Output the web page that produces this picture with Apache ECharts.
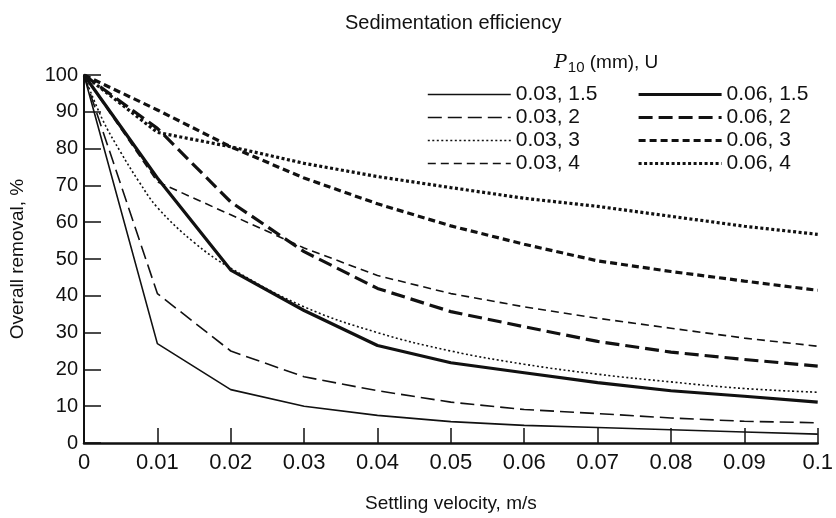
<!DOCTYPE html>
<html><head><meta charset="utf-8">
<script src="https://cdn.jsdelivr.net/npm/echarts@6/dist/echarts.min.js"></script>
<style>html,body{margin:0;padding:0;background:#fff}#c{width:836px;height:518px}</style>
</head><body><div id="c"></div>
<script>
// ---- data ----
const velocity = [0, 0.01, 0.02, 0.03, 0.04, 0.05, 0.06, 0.07, 0.08, 0.09, 0.1];
const velocityFine = [0, 0.0025, 0.005, 0.0075, 0.01, 0.015, 0.02, 0.03, 0.04, 0.05, 0.06, 0.07, 0.08, 0.09, 0.1];
const xTickLabels = ['0', '0.01', '0.02', '0.03', '0.04', '0.05', '0.06', '0.07', '0.08', '0.09', '0.1'];
const seriesNames = ['0.03, 1.5', '0.03, 2', '0.03, 3', '0.03, 4', '0.06, 1.5', '0.06, 2', '0.06, 3', '0.06, 4'];
const removal_003_15 = [100, 27, 14.5, 10, 7.5, 5.8, 4.8, 4.2, 3.6, 3, 2.4];
const removal_003_2  = [100, 40.6, 25, 18, 14.2, 11.1, 9.1, 8, 6.8, 5.9, 5.5];
const removal_003_3  = [100, 88, 79, 71, 64, 54.5, 47.5, 37, 30, 25, 21.4, 18.7, 16.6, 14.8, 13.8];
const removal_003_4  = [100, 71, 62, 53, 45.5, 40.6, 37, 33.9, 31.2, 28.5, 26.3];
const removal_006_15 = [100, 72, 47, 36, 26.5, 21.8, 19.1, 16.4, 14.2, 12.7, 11.1];
const removal_006_2  = [100, 85.5, 65.5, 52, 42, 35.7, 31.6, 27.6, 24.7, 22.7, 20.9];
const removal_006_3  = [100, 90.5, 80.5, 72, 65, 59, 54, 49.5, 46.6, 44, 41.5];
const removal_006_4  = [100, 84.4, 80.5, 76, 72.4, 69.4, 66.5, 64.3, 61.6, 58.9, 56.7];

// ---- styles ----
const INK = '#111';
const styles = [
  {width: 1.6, type: 'solid'},
  {width: 1.6, type: [14, 6]},
  {width: 1.6, type: [2, 2.5]},
  {width: 1.6, type: [8, 5]},
  {width: 3.2, type: 'solid'},
  {width: 3.2, type: [14, 6]},
  {width: 3.2, type: [7, 4]},
  {width: 3.2, type: [3, 2.5]}
];
const seriesData = [
  [velocity, removal_003_15],
  [velocity, removal_003_2],
  [velocityFine, removal_003_3],
  [velocity, removal_003_4],
  [velocity, removal_006_15],
  [velocity, removal_006_2],
  [velocity, removal_006_3],
  [velocity, removal_006_4]
];
const series = seriesNames.map((name, i) => ({
  name: name,
  type: 'line',
  symbol: 'none',
  smooth: i === 2 ? 0.4 : false,
  data: seriesData[i][0].map((x, j) => [x, seriesData[i][1][j]]),
  lineStyle: {color: INK, width: styles[i].width, type: styles[i].type, cap: 'butt'},
  itemStyle: {color: INK},
  emphasis: {disabled: true},
  z: 3
}));
const legendItems = seriesNames.map((name, i) => ({
  name: name,
  lineStyle: {color: INK, width: styles[i].width, type: styles[i].type, cap: 'butt'},
  itemStyle: {color: 'rgba(0,0,0,0)', borderWidth: 0, opacity: 0}
}));

const FONT = 'Liberation Sans';
const chart = echarts.init(document.getElementById('c'), null, {renderer: 'canvas'});
const legendCommon = {
  orient: 'vertical', itemWidth: 83, itemHeight: 14, itemGap: 2,
  selectedMode: false,
  itemStyle: {color: 'rgba(0,0,0,0)', borderWidth: 0, opacity: 0},
  textStyle: {fontFamily: FONT, fontSize: 21, lineHeight: 20, color: INK}
};
chart.setOption({
  animation: false,
  backgroundColor: '#fff',
  title: [
    {text: 'Sedimentation efficiency', left: 340, top: 8, textStyle: {fontFamily: FONT, fontSize: 20, fontWeight: 'normal', color: INK}},
    {text: '{p|P}{s|10}{t| (mm), U}', left: 549, top: 46,
     textStyle: {fontWeight: 'normal', rich: {
       p: {fontFamily: 'DejaVu Serif', fontStyle: 'italic', fontWeight: 'normal', fontSize: 19, color: INK},
       s: {fontFamily: FONT, fontWeight: 'normal', fontSize: 15, color: INK, padding: [9, 0, 0, 1]},
       t: {fontFamily: FONT, fontWeight: 'normal', fontSize: 19, color: INK}
     }}}
  ],
  legend: [
    Object.assign({}, legendCommon, {data: legendItems.slice(0, 4), left: 422, top: 79}),
    Object.assign({}, legendCommon, {data: legendItems.slice(4), left: 632, top: 79})
  ],
  grid: {left: 82, right: 14, top: 75, bottom: 70, containLabel: false},
  xAxis: {
    type: 'value', min: 0, max: 0.1, interval: 0.01,
    name: 'Settling velocity, m/s', nameLocation: 'middle', nameGap: 51,
    nameTextStyle: {fontFamily: FONT, fontSize: 19, color: INK},
    axisLine: {show: true, lineStyle: {color: INK, width: 2.5}},
    axisTick: {show: true, inside: true, length: 15, lineStyle: {color: INK, width: 1.5}},
    axisLabel: {fontFamily: FONT, fontSize: 22, color: INK, margin: 9,
      formatter: v => xTickLabels[Math.round(v / 0.01)]},
    splitLine: {show: false}
  },
  yAxis: {
    type: 'value', min: 0, max: 100, interval: 10,
    name: 'Overall removal, %', nameLocation: 'middle', nameGap: 57,
    nameTextStyle: {fontFamily: FONT, fontSize: 19, color: INK},
    axisLine: {show: true, lineStyle: {color: INK, width: 2}},
    axisTick: {show: true, inside: true, length: 17, lineStyle: {color: INK, width: 1.5}},
    axisLabel: {fontFamily: FONT, fontSize: 20, color: INK, margin: 6},
    splitLine: {show: false}
  },
  series: series
});
</script></body></html>
